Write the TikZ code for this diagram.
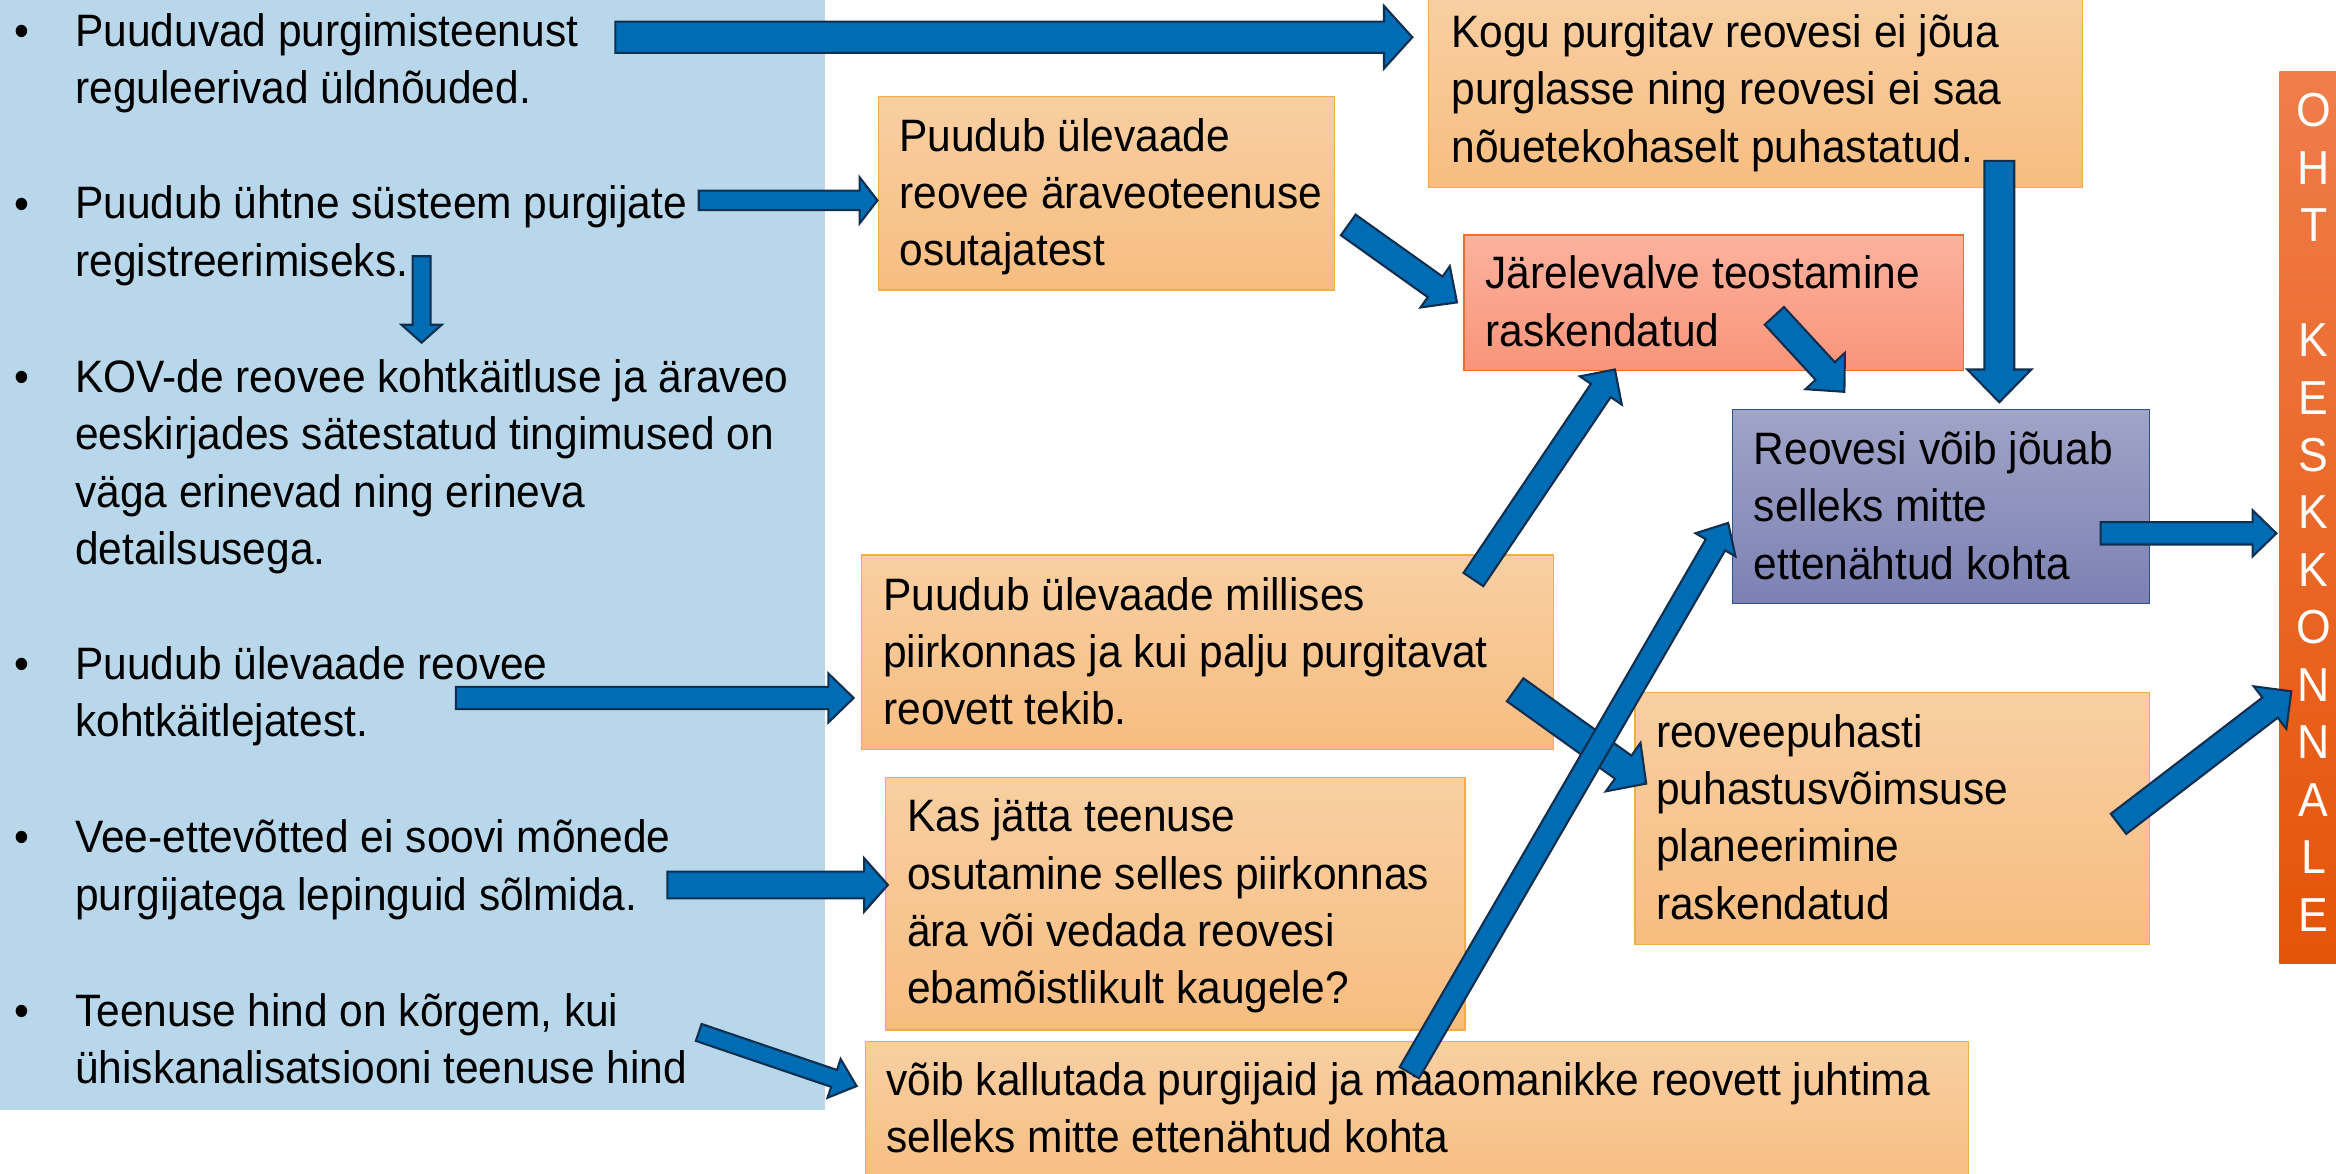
\documentclass[tikz,border=0pt]{standalone}
\usepackage{fontspec}
\setmainfont{Liberation Sans}[FakeStretch=0.935]
\usetikzlibrary{calc}
\definecolor{panelblue}{RGB}{185,215,234}
\definecolor{obtop}{RGB}{248,207,162}
\definecolor{obbot}{RGB}{247,189,128}
\definecolor{obline}{RGB}{244,172,70}
\definecolor{rbtop}{RGB}{251,178,158}
\definecolor{rbbot}{RGB}{249,148,122}
\definecolor{rbline}{RGB}{236,110,40}
\definecolor{pbtop}{RGB}{161,164,199}
\definecolor{pbbot}{RGB}{123,129,180}
\definecolor{pbline}{RGB}{47,82,143}
\definecolor{bartop}{RGB}{240,125,74}
\definecolor{barbot}{RGB}{229,84,8}
\definecolor{arrfill}{RGB}{0,108,180}
\definecolor{arrline}{RGB}{16,46,78}

% block arrow: #1 tail coord, #2 tip coord, #3 shaft width, #4 head width, #5 head length
\newcommand\blockarrow[5]{%
  \path let \p1=($(#2)-(#1)$) in
    \pgfextra{\pgfmathsetmacro\baAng{atan2(\y1,\x1)}\pgfmathsetmacro\baLen{veclen(\x1,\y1)}%
      \global\let\baAng\baAng\global\let\baLen\baLen};
  \begin{scope}[shift={(#1)}, rotate=\baAng]
    \draw[blockarr] (0pt,{#3*0.5pt}) -- ({(\baLen-#5)*1pt},{#3*0.5pt})
      -- ({(\baLen-#5)*1pt},{#4*0.5pt}) -- ({\baLen*1pt},0pt)
      -- ({(\baLen-#5)*1pt},{-#4*0.5pt}) -- ({(\baLen-#5)*1pt},{-#3*0.5pt})
      -- (0pt,{-#3*0.5pt}) -- cycle;
  \end{scope}}

\begin{document}
\begin{tikzpicture}[x=1pt,y=-1pt,
  boxbase/.style={anchor=north west, inner sep=0pt, outer sep=0pt, line width=0.8pt},
  obox/.style={boxbase, draw=obline, top color=obtop, bottom color=obbot},
  rbox/.style={boxbase, draw=rbline, top color=rbtop, bottom color=rbbot},
  pbox/.style={boxbase, draw=pbline, top color=pbtop, bottom color=pbbot},
  barbox/.style={boxbase, top color=bartop, bottom color=barbot},
  panel/.style={boxbase, fill=panelblue},
  txt/.style={anchor=north west, inner sep=0pt, align=left, yshift=-4.5pt,
    font=\fontsize{30.5}{38.5}\selectfont, execute at begin node=\strut},
  bul/.style={anchor=base, inner sep=0pt, font=\fontsize{30.5}{38.5}\selectfont},
  bartext/.style={anchor=north, inner sep=0pt, align=center, text=white, yshift=-3.5pt,
    font=\fontsize{32}{38.57}\selectfont, execute at begin node=\strut},
  blockarr/.style={draw=arrline, fill=arrfill, line width=1.4pt, line join=miter}]

\useasboundingbox (0,0) rectangle (1568,788);

% left panel
\node[panel, minimum width=553.7pt, minimum height=745pt] (panel) at (0,0) {};

\node[bul] (b1) at (14.4,31.3) {•};
\node[bul] (b2) at (14.4,147) {•};
\node[bul] (b3) at (14.4,263.5) {•};
\node[bul] (b4) at (14.4,456) {•};
\node[bul] (b5) at (14.4,572.5) {•};
\node[bul] (b6) at (14.4,689) {•};

\node[txt] (t1) at (50.3,4.35) {Puuduvad purgimisteenust\\reguleerivad üldnõuded.};
\node[txt] (t2) at (50.3,120.05) {Puudub ühtne süsteem purgijate\\registreerimiseks.};
\node[txt] (t3) at (50.3,236.55) {KOV-de reovee kohtkäitluse ja äraveo\\eeskirjades sätestatud tingimused on\\väga erinevad ning erineva\\detailsusega.};
\node[txt] (t4) at (50.3,429.05) {Puudub ülevaade reovee\\kohtkäitlejatest.};
\node[txt] (t5) at (50.3,545.55) {Vee-ettevõtted ei soovi mõnede\\purgijatega lepinguid sõlmida.};
\node[txt] (t6) at (50.3,662.05) {Teenuse hind on kõrgem, kui\\ühiskanalisatsiooni teenuse hind};

% boxes
\node[obox, minimum width=439pt, minimum height=128pt] (A) at (959,-2) {};
\node[obox, minimum width=306pt, minimum height=130pt] (B) at (589.5,64.7) {};
\node[rbox, minimum width=335pt, minimum height=91pt] (C) at (982.7,157.7) {};
\node[pbox, minimum width=280pt, minimum height=130.3pt] (D) at (1163,275) {};
\node[obox, minimum width=465pt, minimum height=130.5pt] (E) at (578,372.5) {};
\node[obox, minimum width=345.5pt, minimum height=169.3pt] (F) at (1097.5,464.7) {};
\node[obox, minimum width=388.8pt, minimum height=169.5pt] (G) at (594.6,521.8) {};
\node[obox, minimum width=740.5pt, minimum height=100pt] (H) at (581,699.2) {};
\node[barbox, minimum width=45pt, minimum height=599pt] (bar) at (1530,48) {};

\node[txt] (At) at (974,5.05) {Kogu purgitav reovesi ei jõua\\purglasse ning reovesi ei saa\\nõuetekohaselt puhastatud.};
\node[txt] (Bt) at (603.5,74.55) {Puudub ülevaade\\reovee äraveoteenuse\\osutajatest};
\node[txt] (Ct) at (997,167.05) {Järelevalve teostamine\\raskendatud};
\node[txt] (Dt) at (1177,285.05) {Reovesi võib jõuab\\selleks mitte\\ettenähtud kohta};
\node[txt] (Et) at (592.7,382.65) {Puudub ülevaade millises\\piirkonnas ja kui palju purgitavat\\reovett tekib.};
\node[txt] (Ft) at (1111.5,474.65) {reoveepuhasti\\puhastusvõimsuse\\planeerimine\\raskendatud};
\node[txt] (Gt) at (608.7,531.55) {Kas jätta teenuse\\osutamine selles piirkonnas\\ära või vedada reovesi\\ebamõistlikult kaugele?};
\node[txt] (Ht) at (594.6,708.45) {võib kallutada purgijaid ja maaomanikke reovett juhtima\\selleks mitte ettenähtud kohta};

\node[bartext] (bart) at (1553,59) {O\\H\\T\\\strut\\K\\E\\S\\K\\K\\O\\N\\N\\A\\L\\E};

% arrow end points
\coordinate (a1s) at (413,25);     \coordinate (a1e) at (948,25);
\coordinate (a2s) at (469,134.5);  \coordinate (a2e) at (589,134.5);
\coordinate (a3s) at (283,172);    \coordinate (a3e) at (283,230);
\coordinate (a4s) at (905,151);    \coordinate (a4e) at (978,203);
\coordinate (a5s) at (1191,212);   \coordinate (a5e) at (1238,263);
\coordinate (a6s) at (1342,108);   \coordinate (a6e) at (1342,270);
\coordinate (a7s) at (1410,358);   \coordinate (a7e) at (1528,358);
\coordinate (a8s) at (989,389);    \coordinate (a8e) at (1084,248);
\coordinate (a9s) at (1017,463);   \coordinate (a9e) at (1105,526);
\coordinate (a10s) at (946,720);   \coordinate (a10e) at (1160,351);
\coordinate (a11s) at (1422,553);  \coordinate (a11e) at (1538,464);
\coordinate (a12s) at (306,468.5); \coordinate (a12e) at (573,468.5);
\coordinate (a13s) at (448,594);   \coordinate (a13e) at (596,594);
\coordinate (a14s) at (469,693);   \coordinate (a14e) at (575,729);

\blockarrow{a1s}{a1e}{21}{42}{19}
\blockarrow{a2s}{a2e}{13}{31}{12}
\blockarrow{a3s}{a3e}{12}{27}{12}
\blockarrow{a4s}{a4e}{17}{34}{18}
\blockarrow{a5s}{a5e}{17.5}{36}{19}
\blockarrow{a6s}{a6e}{20}{43}{22}
\blockarrow{a7s}{a7e}{15}{31}{16}
\blockarrow{a8s}{a8e}{16}{34}{17}
\blockarrow{a9s}{a9e}{19}{40}{19}
\blockarrow{a10s}{a10e}{15}{31}{17}
\blockarrow{a11s}{a11e}{17}{36}{18}
\blockarrow{a12s}{a12e}{15}{33}{17}
\blockarrow{a13s}{a13e}{18}{36}{16}
\blockarrow{a14s}{a14e}{12}{27.5}{16}

\end{tikzpicture}
\end{document}
